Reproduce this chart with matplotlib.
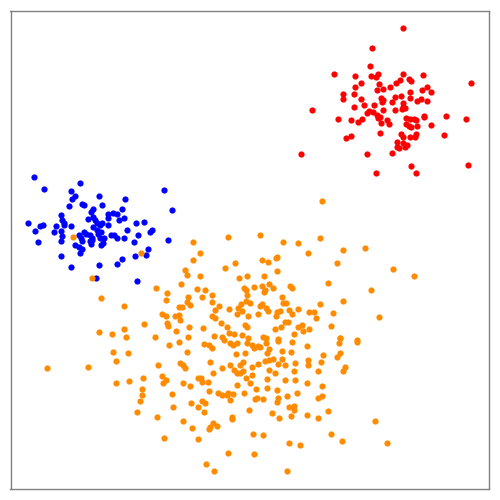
import matplotlib
matplotlib.use("Agg")
import matplotlib.pyplot as plt
import numpy as np

# Points (pixel-like coordinates, y downward)
red_pts = [
(403.3,28.3),(372.3,48.3),(370,65.7),(333.7,74.3),(355.3,76),(371,75.7),(378,74.3),(376,76.7),
(402.7,74),(423.3,75),(360.7,83),(379.3,84),(396,83),(400,80.3),(409,79),(410.7,80.7),(471.3,83.3),
(354.7,87.3),(377.3,90.3),(383.3,89.3),(390,86.7),(343.3,94),(342.7,98.7),(354,94),(380.7,97.7),
(382.7,100),(382,101.7),(395.3,97.3),(400.7,96),(410,91.7),(410,97.7),(422.3,90.3),(427.3,87.3),
(430.7,92),(361,99),(391.7,102),(402.7,103.3),(403,107.3),(416.7,101.3),(420.7,99),(427,101),
(312.3,110),(353.7,107.3),(364.3,105.3),(374,105.3),(383,110),(395.3,110),(402,109.3),(404.7,107.7),
(367,113.3),(369.3,111),(373.3,111.7),(377.3,114.7),(338,119.3),(351.3,120),(358.3,122),(362,119),
(377.7,118.3),(380,117),(380.7,122.7),(387,120),(389,124.3),(406,118),(410,118.7),(413.7,119),
(415.7,120.3),(423.7,115.7),(424,117),(446,115.7),(466,118.7),(406,124),(409.3,126.3),(411.3,127.3),
(416.7,125.7),(430.7,125),(380,133),(351.3,135.7),(346,137.7),(401,134),(402.7,137.3),(415.3,136.7),
(416.3,133.7),(410.3,137.3),(443.7,135.3),(396.7,142),(403.3,143.3),(405.3,146.7),(407.3,145.3),
(397.3,147.3),(399,148.3),(301.3,154),(366.7,154.3),(391.7,153.3),(411,166),(468,165.3),
(376.3,173.3),(416.3,173),
]

blue_pts = [
(34.3,176.7),(44,189),(80,183.3),(71,191),(75,196),(71.7,199.3),(99.3,196),(125.3,198.7),(163.7,190.3),
(69.3,205.7),(82.3,204),(84.3,204.7),(102.3,204.7),(171.7,210),(121.7,208.7),(92.7,209),(91.3,212.3),
(108.3,213.7),(113.3,212.7),(117,214.3),(60.7,215),(88,218.7),(93.3,216.7),(95.3,220),(97.3,223.3),
(108,217.7),(118.7,220),(124.3,218),(62,220),(63.7,222.7),(64.3,225),(28.3,223),(40,226),(43.3,225.3),
(55.7,226),(70.7,226),(93.3,226.7),(100,225.3),(102.3,223.3),(107.7,225.3),(136.3,223),(144,222.3),
(34.7,230.7),(54,232),(60.7,231),(96.7,230),(100.7,232.3),(98.3,234),(127,230),(150,231.7),(152,229.7),
(62.3,236),(78.7,234.7),(84,232),(85.7,234.3),(80.7,238.3),(89.7,235.3),(91.7,238.3),(99.7,237.7),
(104.3,238.3),(111,235.3),(114.3,235.3),(117.3,238.3),(124.3,237.7),(137.7,235),(61.3,240.7),
(38.3,241.7),(134.3,241.7),(167.7,239.7),(75,244.7),(81.7,241),(78.7,247.3),(91.3,244),(90,241),
(92.3,240),(101.3,245.3),(102.7,242.7),(81.7,248.7),(80,252.7),(147.7,249.3),(146.3,255.3),
(134.7,256.3),(60.7,255.7),(122,259),(117.3,264),(99,264.7),(71.3,266.7),(96.3,278.3),(137,280.7),
]

orange_pts = [
# left part
(72.7,236.7),(140.7,252.7),(92.3,278.3),(156.3,287.7),(167,292.7),(166,299.7),(101,297.7),
(124.3,306.3),(178.7,306.7),(162,314),(166,315.7),(167.3,322.7),(168,326),(144.3,323.7),(99.3,331.7),
(112,334.3),(124,329),(125.7,337),(154.7,337),
# upper middle
(227.7,237),(259.7,234.7),(193.3,242),(200.3,253),(283.3,241.7),(298.3,243.3),(192.7,260),(235.3,263),
(225,268),(262,259.7),(268,261.7),(276,257.7),(277.3,257.3),(276.7,270.7),(185,270.3),(186.7,274.7),
(199.7,276.3),(239.3,278.3),(247,276),(264,276),(181,283.7),(253.7,287),(243.7,288.3),(245.7,290),
(262,286),(264,291.7),(265,290),(269,284),(273,288),(290,286.3),(292,287.7),(197,289.3),(204.7,290.3),
(211.7,295.3),(202,297.3),(188.3,296.7),(247,295),(246,301.3),(240.7,304),(187.3,302.3),(190,304.7),
(212,302.3),(218.7,305.7),(182,307),(249.7,303.3),(260.3,305.7),(262.3,304.3),(282.3,296.7),
(282.7,303),(285.7,302.7),(265.7,308.3),(268.3,311),(237.7,308.3),(241.7,311),(237,313.7),(228.7,309.3),
(214.7,310),(175,315.7),(178.7,315),(180,320),(211.7,316.3),(215,318.3),(220.7,323.3),(247.7,316),
(257.7,314),(277,311.7),(280,310.7),(289,310),(297.7,309.3),(276.3,316),(285,322.3),(288.3,321.7),
(281,326.7),(275.3,329.3),(298,327),(293.7,334),(245,324.7),(247,326.7),(226.7,326.7),(188.7,327.3),
(203,328.3),(176.3,331),(229,332.7),(234.3,334.3),(213.7,335.7),(222,336.7),(242.3,335.3),(247.7,338),
(263,337),(266.3,338),(188,337),(278.3,339.3),
# upper right
(322.3,200.7),(320.3,238.3),(308,253),(343,249.7),(365,248.3),(337,263),(393,269.3),(413.7,276.3),
(328,283.3),(370.7,289.7),(343.3,301.3),(320,304.3),(291.7,314.3),(309,312),(314,312),(316,318),
(332.7,313),(378.7,317),(302,325.3),(303,331.3),(309,328.7),(331.3,326),(340,338),(357.3,340.3),
# lower left
(169.3,345),(178.7,342.3),(113,352),(128.3,353),(115.7,361),(47,368.3),(88,367),(157.7,365.3),
(180,363.3),(162.3,375.7),(143.3,377.7),(116.3,382.7),(129,380.7),(163.3,382.7),(165.7,380.3),
(142.3,388.7),(142,395.3),(140.3,401),(171.7,394),(182.7,383.3),(173,407),(137,412),(156.7,417),
(164,438.3),
# lower middle
(224,340),(246.7,342.7),(252,344.7),(254,348.3),(258.3,345.7),(260,346.7),(266,343.3),(278,340.7),
(292.3,342),(204,344),(208.7,345),(212.3,347.7),(230,343.3),(233.3,345),(236.7,343.3),(236.3,354),
(245.3,353.3),(187.3,352.3),(267,353.3),(269.3,349.3),(282,350.7),(265.3,360.7),(269,360),(273,358.7),
(282,359.3),(278,364.3),(285.3,364.7),(294.7,363),(291,352.3),(182.7,365),(185,367.7),
(210.3,362),(222.3,367.7),(229.7,365.3),(240,364.7),(243.3,361.7),(258,364.3),(251.7,366.7),
(234.3,370),(237,372.7),(240.3,373.3),(242.7,370.7),(252,375.3),(268.7,370),(275,372.7),(213,372.7),
(246,377.7),(250,382.7),(198.3,378.3),(201,377.7),(201.7,381.7),(207.7,381.7),(237.3,385),(267.3,379.3),
(285,380.3),(294.7,379.7),(189.7,386),(255.7,388.7),(267,388.3),(276.7,390),(208.7,391.3),
(218.3,393.3),(221.7,395),(228,392.7),(232.7,394),(226.7,395),(244,393.3),(230.3,399.7),(255.3,398.7),
(257.3,398.3),(263,399),(277.7,397.7),(277.3,401.7),(286.7,396),(297.3,393.3),(191,402.7),(201.7,400.7),
(205.3,403.3),(197.7,406.7),(203.7,411.7),(248.7,410.3),(272,412.7),(288.7,407.3),(294,406.3),
(294,410.3),(291.3,415.7),(279,417.7),(232.3,416.7),(231.7,418.7),(182.7,421.3),(212.7,423.3),
(210,426.7),(209,429),(216.7,425.7),(192.3,428),(198.3,438.7),(253.3,433.7),(263,434.7),(289,443.3),
(299.7,445),(228,453),(254,453.7),(205.7,464.3),(213.7,470.7),(287,471.3),
# lower right
(340.3,338.3),(339,343.3),(357.3,341.7),(307.3,346),(323.3,354.7),(340,352.7),(337,357.3),(308.3,359.7),
(307.7,364.7),(321,362.3),(345,366.7),(343.3,371),(293.7,370.7),(318.3,371.3),(307,383.3),(322.3,386),
(318.3,397.7),(321.7,395.7),(307.3,414.7),(318,417.7),(328.3,411),(375,421.3),(331,434),(342.3,441.3),
(386.7,442.7),
]

red = np.array(red_pts)
blue = np.array(blue_pts)
orange = np.array(orange_pts)

fig = plt.figure(figsize=(5, 5), dpi=100)
ax = fig.add_axes([0.021, 0.022, 0.957, 0.957])
ax.scatter(blue[:, 0], blue[:, 1], s=20, c='#0000ff', linewidths=0)
ax.scatter(orange[:, 0], orange[:, 1], s=20, c='#ff8c00', linewidths=0)
ax.scatter(red[:, 0], red[:, 1], s=20, c='#ff0000', linewidths=0)
ax.set_xlim(10.5, 489)
ax.set_ylim(489, 10.5)
ax.set_xticks([])
ax.set_yticks([])
for sp in ax.spines.values():
    sp.set_color('#808080')
    sp.set_linewidth(1.0)
fig.savefig("out.png", dpi=100)
